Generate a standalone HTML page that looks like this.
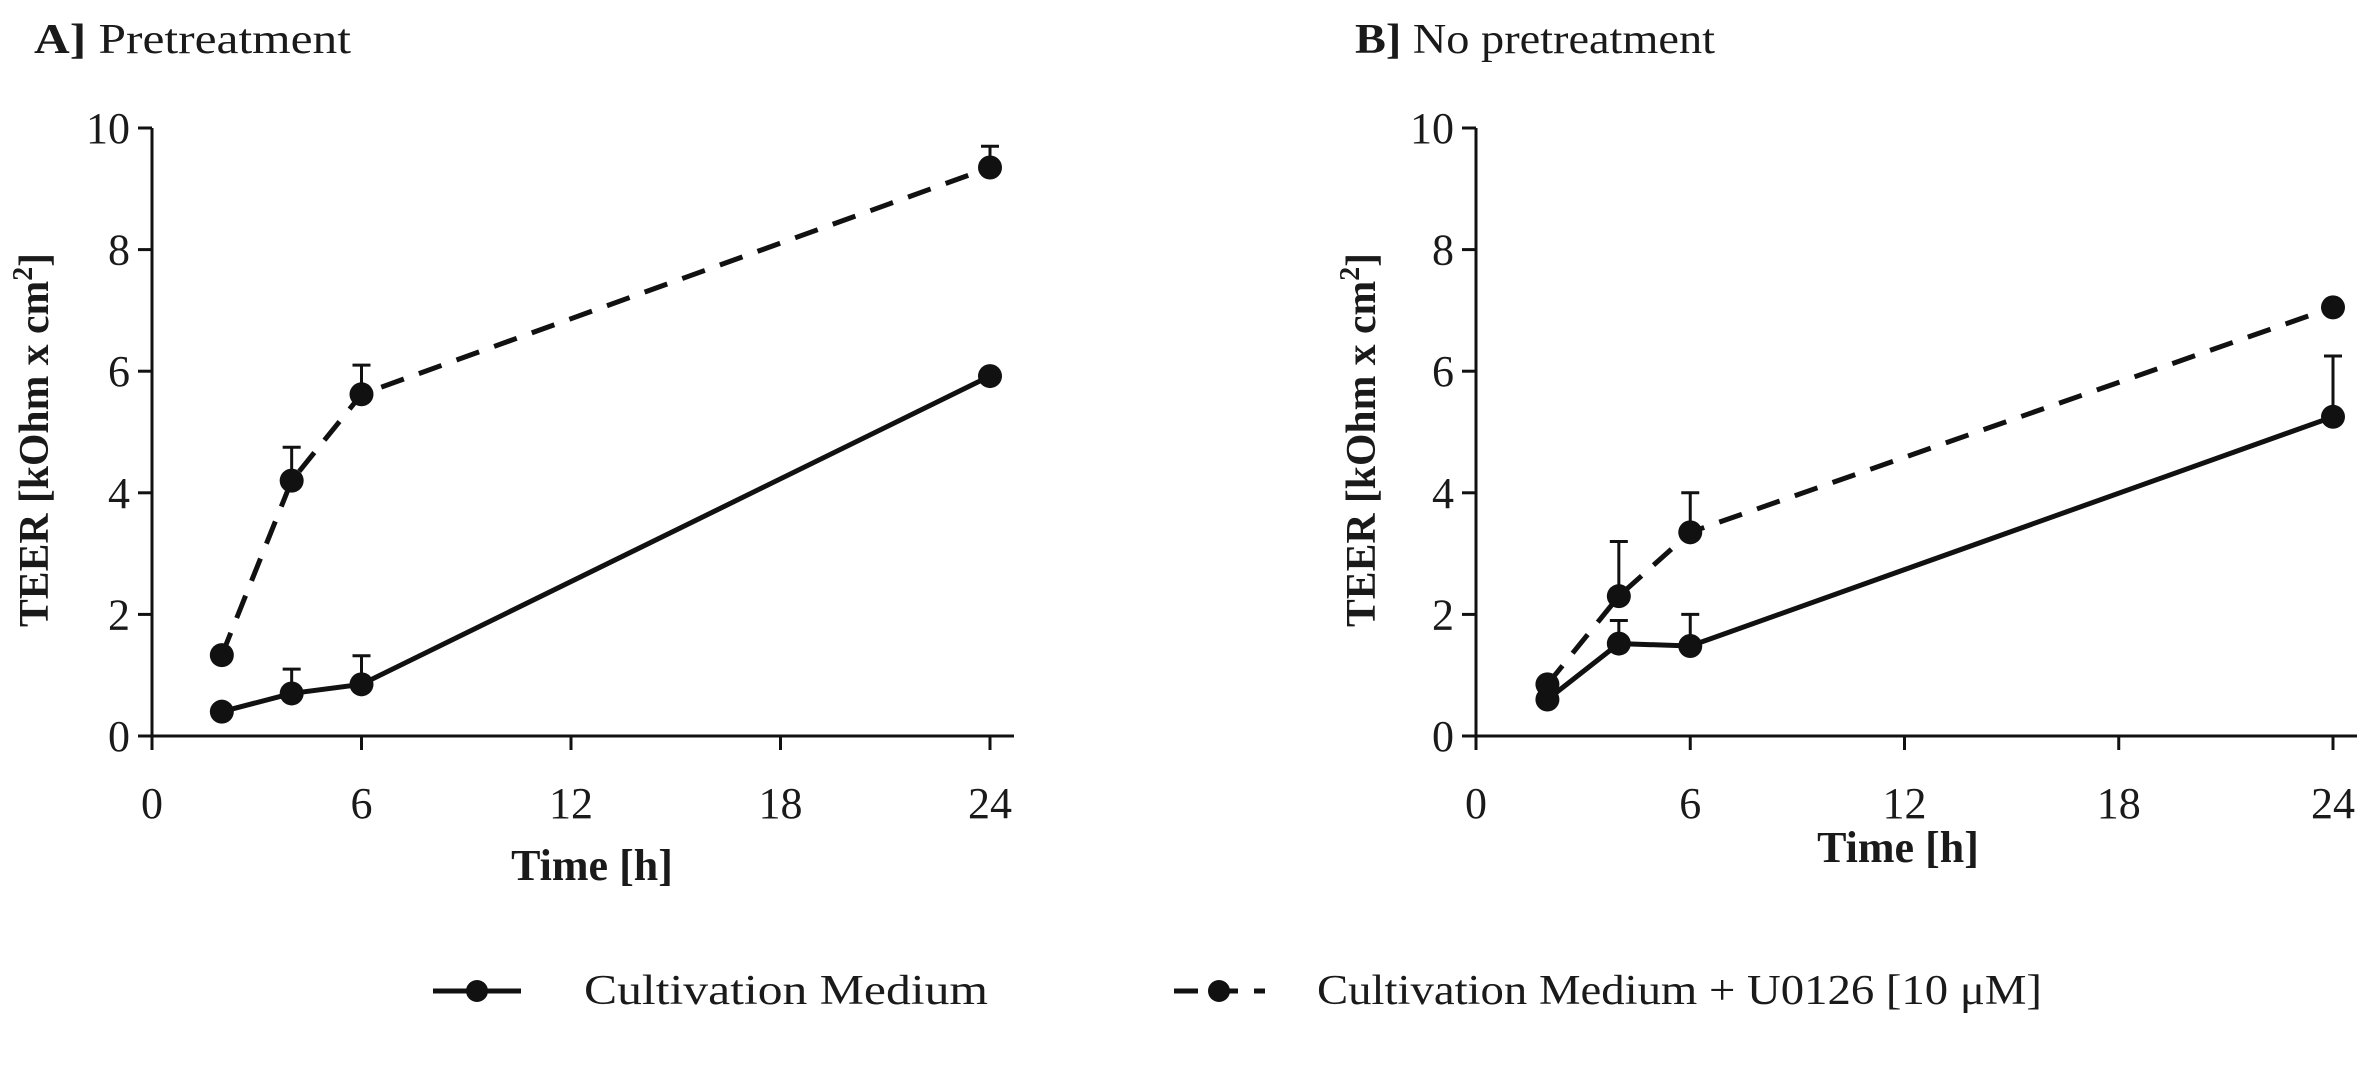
<!DOCTYPE html>
<html><head><meta charset="utf-8"><style>
html,body{margin:0;padding:0;background:#fff}
svg{display:block}
text{font-family:"Liberation Serif",serif;fill:#1a1a1a}
</style></head><body>
<svg id="chart" width="2366" height="1066" viewBox="0 0 2366 1066">
<text x="34" y="53" font-size="42" textLength="317" lengthAdjust="spacingAndGlyphs"><tspan font-weight="bold">A]</tspan> Pretreatment</text>
<text x="1355" y="53" font-size="42" textLength="360" lengthAdjust="spacingAndGlyphs"><tspan font-weight="bold">B]</tspan> No pretreatment</text>
<g>
<g>
<line x1="433" y1="991" x2="521" y2="991" stroke="#111" stroke-width="5"/>
<circle cx="477" cy="991" r="11" fill="#111"/>
<text x="584" y="1004" font-size="42" textLength="404" lengthAdjust="spacingAndGlyphs">Cultivation Medium</text>
</g>
<g>
<line x1="1174" y1="991" x2="1265" y2="991" stroke="#111" stroke-width="5" stroke-dasharray="24,16"/>
<circle cx="1219" cy="991" r="11" fill="#111"/>
<text x="1317" y="1004" font-size="42" textLength="725" lengthAdjust="spacingAndGlyphs">Cultivation Medium + U0126 [10 μM]</text>
</g>
</g>
</svg>
<script>
const times = [2, 4, 6, 24];
const xTicks = [0, 6, 12, 18, 24];
const yTicks = [0, 2, 4, 6, 8, 10];
const aControl = [0.4, 0.7, 0.85, 5.92];
const aControlErr = [0, 0.4, 0.47, 0];
const aU0126 = [1.33, 4.2, 5.62, 9.35];
const aU0126Err = [0, 0.55, 0.48, 0.35];
const bControl = [0.6, 1.52, 1.48, 5.25];
const bControlErr = [0, 0.38, 0.52, 1.0];
const bU0126 = [0.85, 2.3, 3.35, 7.05];
const bU0126Err = [0, 0.9, 0.65, 0];

const NS = "http://www.w3.org/2000/svg";
const svg = document.getElementById('chart');
function mk(tag, attrs, parent) {
  const e = document.createElementNS(NS, tag);
  for (const k in attrs) e.setAttribute(k, attrs[k]);
  (parent || svg).appendChild(e);
  return e;
}
function panel(id, ox, x24, xEnd, yTitleX, xTitleY, xTitleX, series) {
  const y0 = 736, y10 = 128;
  const X = v => ox + (x24 - ox) * v / 24;
  const Y = v => y0 + (y10 - y0) * v / 10;
  const g = mk('g', {});
  
  
  const ya = mk('line', {x1: ox, y1: Y(10), x2: ox, y2: y0, stroke: '#111', 'stroke-width': 3}, g);
  
  
  const xa = mk('line', {x1: ox - 14, y1: y0, x2: xEnd, y2: y0, stroke: '#111', 'stroke-width': 3}, g);
  
  
  yTicks.forEach(t => {
    mk('line', {x1: ox - 14, y1: Y(t), x2: ox, y2: Y(t), stroke: '#111', 'stroke-width': 3}, g);
    const tx = mk('text', {x: ox - 22, y: Y(t) + 15, 'font-size': 44, 'text-anchor': 'end'}, g);
    tx.textContent = t;
    
    
  });
  xTicks.forEach(t => {
    mk('line', {x1: X(t), y1: y0, x2: X(t), y2: y0 + 14, stroke: '#111', 'stroke-width': 3}, g);
    const tx = mk('text', {x: X(t), y: 818, 'font-size': 44, 'text-anchor': 'middle'}, g);
    tx.textContent = t;
    
    
  });
  const xt = mk('text', {x: xTitleX, y: xTitleY, 'font-size': 44, 'font-weight': 'bold', 'text-anchor': 'middle'}, g);
  xt.textContent = 'Time [h]';
  
  
  const yt = mk('text', {x: 0, y: 0, 'font-size': 42, 'font-weight': 'bold', 'text-anchor': 'middle', textLength: 374, lengthAdjust: 'spacingAndGlyphs', transform: 'translate(' + yTitleX + ',' + 440 + ') rotate(-90)'}, g);
  yt.innerHTML = 'TEER [kOhm x cm<tspan dy="-16" font-size="28">2</tspan><tspan dy="16">]</tspan>';
  
  
  series.forEach(s => {
    const sg = mk('g', {}, g);
    
    
    s.err.forEach((e, i) => {
      if (e <= 0) return;
      const x = X(times[i]);
      mk('line', {x1: x, y1: Y(s.vals[i]), x2: x, y2: Y(s.vals[i] + e), stroke: '#111', 'stroke-width': 3}, sg);
      const cap = mk('line', {x1: x - 9, y1: Y(s.vals[i] + e), x2: x + 9, y2: Y(s.vals[i] + e), stroke: '#111', 'stroke-width': 3}, sg);
      
      
    });
    const pts = s.vals.map((v, i) => X(times[i]) + ',' + Y(v)).join(' ');
    const pl = mk('polyline', {points: pts, fill: 'none', stroke: '#111', 'stroke-width': 5, 'stroke-dasharray': s.dash ? '24,16' : 'none'}, sg);
    
    
    s.vals.forEach((v, i) => {
      const c = mk('circle', {cx: X(times[i]), cy: Y(v), r: 12, fill: '#111'}, sg);
      
      
    });
  });
}
panel('panel-a', 152, 990, 1014, 48, 880, 592, [
  {name: 'control', vals: aControl, err: aControlErr, dash: false},
  {name: 'u0126', vals: aU0126, err: aU0126Err, dash: true}]);
panel('panel-b', 1476, 2333, 2357, 1375, 862, 1898, [
  {name: 'control', vals: bControl, err: bControlErr, dash: false},
  {name: 'u0126', vals: bU0126, err: bU0126Err, dash: true}]);
</script>
</body></html>
